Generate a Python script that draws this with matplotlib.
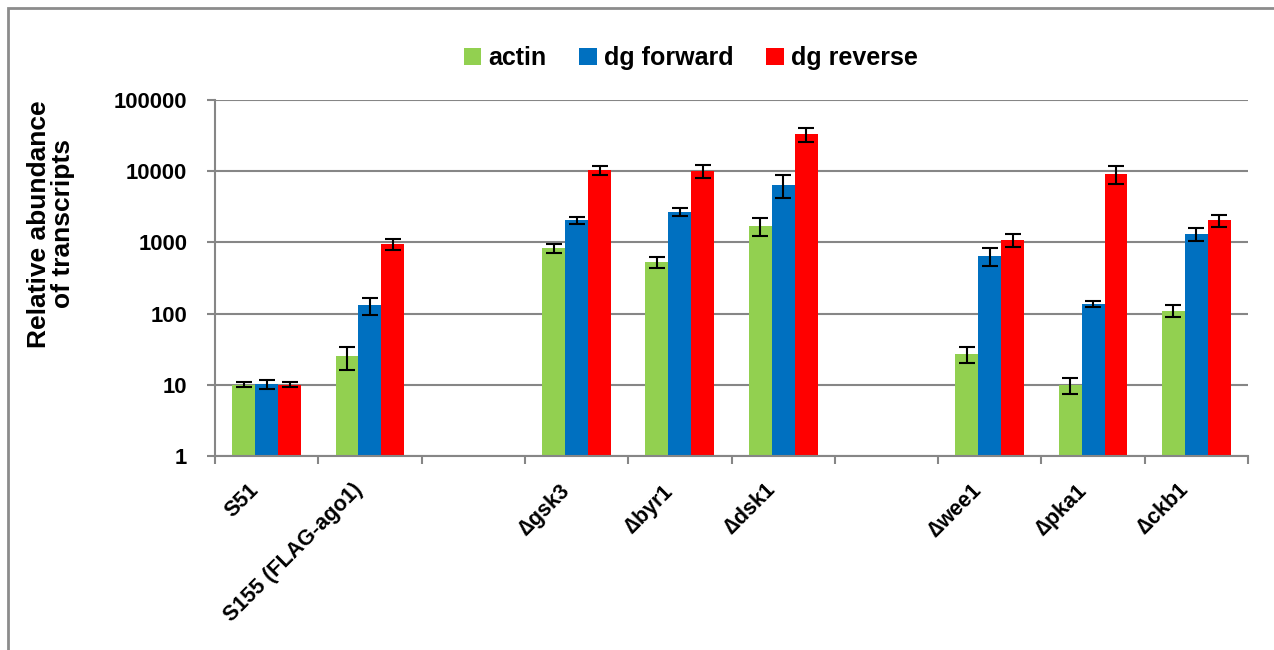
import numpy as np
import matplotlib.pyplot as plt
import matplotlib.transforms as mtransforms
from matplotlib.patches import Rectangle

plt.rcParams['font.family'] = ['Liberation Sans', 'DejaVu Sans']
plt.rcParams['font.weight'] = 'bold'
plt.rcParams['mathtext.fontset'] = 'custom'
plt.rcParams['mathtext.rm'] = 'Liberation Sans'

D = "$\\mathrm{\u2206}$"
cats = ["S51", "S155 (FLAG-ago1)", "", D + "gsk3", D + "byr1", D + "dsk1", "",
        D + "wee1", D + "pka1", D + "ckb1"]
nan = np.nan
actin = [10, 25, nan, 830, 530, 1700, nan, 27, 10, 110]
actin_err = [0.8, 9, nan, 110, 100, 470, nan, 6.5, 2.5, 21]
fwd = [10.2, 130, nan, 2060, 2700, 6500, nan, 650, 135, 1310]
fwd_err = [1.6, 35, nan, 250, 370, 2300, nan, 180, 13, 270]
rev = [10, 950, nan, 10400, 10200, 33000, nan, 1080, 9200, 2060]
rev_err = [0.8, 160, nan, 1500, 2100, 7000, nan, 230, 2500, 390]

series = [("actin", actin, actin_err, "#92D050"),
          ("dg forward", fwd, fwd_err, "#0070C0"),
          ("dg reverse", rev, rev_err, "#FF0000")]

W, H = 1274, 650
fig = plt.figure(figsize=(W / 100, H / 100), dpi=100)
ax = fig.add_axes([215 / W, 1 - 456 / H, (1248 - 215) / W, (456 - 100) / H])

# outer chart border
fig.patches.append(Rectangle((8 / W, -0.1), 1.2, 1 - 8 / H + 0.1, transform=fig.transFigure,
                             fill=False, edgecolor="#8c8c8c", lw=2))

x = np.arange(len(cats))
bw = 1 / 4.5
for i, (name, vals, errs, col) in enumerate(series):
    pos = x + (i - 1) * bw
    ax.bar(pos, vals, width=bw, color=col, label=name, zorder=2)
    ax.errorbar(pos, vals, yerr=errs, fmt="none", ecolor="black", elinewidth=1.5,
                capsize=6, capthick=1.5, zorder=3)

ax.set_yscale("log")
ax.set_ylim(1, 100000)
ax.set_xlim(-0.5, len(cats) - 0.5)
yt = [1, 10, 100, 1000, 10000, 100000]
ax.set_yticks(yt, [str(v) for v in yt], fontsize=15.8)
ax.yaxis.set_minor_locator(plt.NullLocator())
ax.tick_params(axis="y", length=6, width=1.5, color="#868686", pad=14)

ax.set_xticks(np.arange(-0.5, len(cats), 1), [""] * (len(cats) + 1))
ax.set_xticks(x, cats, minor=True, rotation=45, ha="right", rotation_mode="anchor",
              fontsize=15.5)
ax.tick_params(axis="x", which="major", length=6, width=1.5, color="#868686")
ax.tick_params(axis="x", which="minor", length=0, pad=17)
shift = mtransforms.ScaledTranslation(-18 / 100, 0, fig.dpi_scale_trans)
for lab in ax.get_xticklabels(minor=True):
    lab.set_transform(lab.get_transform() + shift)

ax.grid(axis="y", color="#868686", lw=1.5)
ax.set_axisbelow(True)
for s in ["top", "right"]:
    ax.spines[s].set_visible(False)
for s in ["left", "bottom"]:
    ax.spines[s].set_color("#868686")
    ax.spines[s].set_linewidth(1.5)

fig.text(51 / W, 1 - 224 / H, "Relative abundance\nof transcripts", rotation=90,
         ha="center", va="center", multialignment="center", fontsize=19, linespacing=1.05)

fig.legend(loc="center", bbox_to_anchor=(691 / W, 1 - 58 / H), ncol=3, frameon=False,
           fontsize=18, handlelength=0.7, handleheight=0.7, handletextpad=0.3,
           columnspacing=1.3)

fig.savefig("out.png", dpi=100)
